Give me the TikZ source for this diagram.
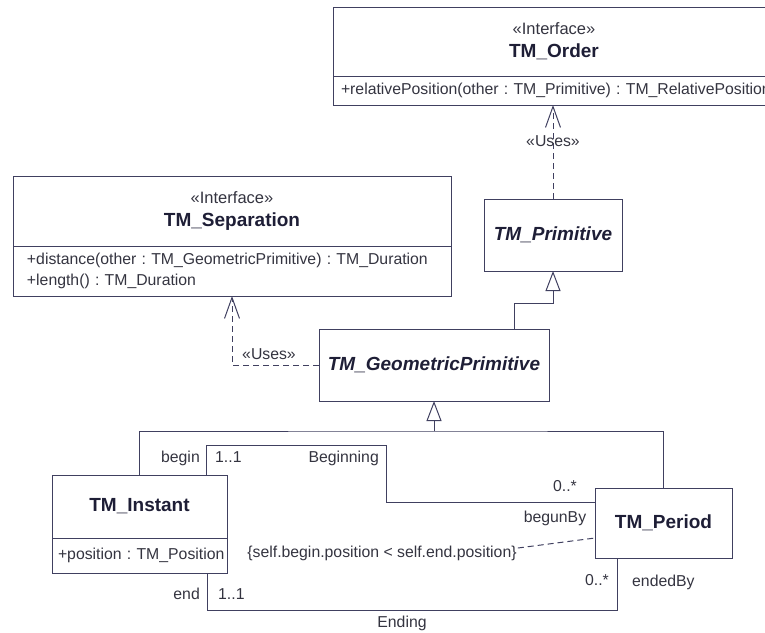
\documentclass[tikz,border=0pt]{standalone}
\usepackage{fontspec}
\setmainfont{Liberation Sans}
\usepackage{tikz}
\usetikzlibrary{positioning}
\usetikzlibrary{arrows.meta}
\frenchspacing
\definecolor{linecol}{RGB}{64,64,96}
\definecolor{txtcol}{RGB}{52,52,64}
\definecolor{namecol}{RGB}{30,30,54}
\newcommand{\clsname}[1]{{\fontsize{19}{23}\selectfont\bfseries\color{namecol}#1}}
\tikzstyle{cls} = [draw=linecol,line width=1pt,inner sep=0pt,outer sep=0pt,align=center]
\tikzstyle{ops} = [draw=linecol,line width=1pt,inner ysep=0pt,outer sep=0pt,align=left]
\tikzstyle{lbl} = [inner sep=1pt,text height=11.5pt,text depth=3.5pt]
\tikzstyle{link} = [draw=linecol,line width=1pt]
\tikzstyle{uses} = [link,dash pattern=on 6pt off 4pt,-{Straight Barb[length=21pt,width=15pt]}]
\tikzstyle{gen} = [link,-{Triangle[open,length=20pt,width=15pt]}]

\begin{document}
\begin{tikzpicture}[x=1pt,y=-1pt,font=\fontsize{15.8}{23}\selectfont,text=txtcol]
\useasboundingbox (0,0) rectangle (765,632);
\clip (0,0) rectangle (765,632);

%Nodes
\node[cls,minimum width=442pt,minimum height=69pt,anchor=north west] (Ord) at (333,7) {{\fontsize{16.5}{23}\selectfont«Interface»}\\\clsname{TM\_Order}};
\node[ops,minimum width=442pt,minimum height=29pt,text width=426pt,inner xsep=8pt,below=0pt of Ord] (OrdOps) {\mbox{+relativePosition(other : TM\_Primitive) : TM\_RelativePosition}};
\node[cls,minimum width=438pt,minimum height=70pt,anchor=north west] (Sep) at (13,176) {{\fontsize{16.5}{22}\selectfont«Interface»}\\\clsname{TM\_Separation}};
\node[ops,minimum width=438pt,minimum height=50pt,text width=410pt,inner xsep=14pt,below=0pt of Sep,font=\fontsize{15.8}{21}\selectfont] (SepOps) {+distance(other : TM\_GeometricPrimitive) : TM\_Duration\\+length() : TM\_Duration};
\node[cls,minimum width=138pt,minimum height=72pt,anchor=north west] (Prim) at (484,199) {\clsname{\itshape TM\_Primitive}};
\node[cls,minimum width=230pt,minimum height=72pt,anchor=north west] (Geo) at (319,329) {\clsname{\itshape TM\_GeometricPrimitive}};
\node[cls,minimum width=175pt,minimum height=63pt,anchor=north west] (Inst) at (52,475) {\clsname{TM\_Instant}};
\node[ops,minimum width=175pt,minimum height=35pt,text width=163pt,inner xsep=6pt,below=0pt of Inst] (InstOps) {\mbox{+position : TM\_Position}};
\node[cls,minimum width=137pt,minimum height=70pt,anchor=north west] (Per) at (595,488) {\clsname{TM\_Period}};
\node[lbl] (Cons) at (382,553) {\{self.begin.position < self.end.position\}};

%Lines
\draw[uses] (Prim.north) -- (Prim.north |- OrdOps.south);
\node[lbl] (UsesOrd) at (553,142) {«Uses»};
\draw[uses] (Geo.west) -| (SepOps.south);
\node[lbl] (UsesSep) at (269,355) {«Uses»};
\draw[gen] ([xshift=80pt]Geo.north) |- ([yshift=-32pt]Prim.south) -- (Prim.south);
\coordinate[below=30pt of Geo.south] (GenJoin);
\draw[gen] (GenJoin) -- (Geo.south);
\draw[link] (Inst.north) |- (GenJoin) -| (Per.north);
\draw[link] ([xshift=-21pt]Inst.north east) -- ++(0,-30) -- ++(180,0) |- ([yshift=-14pt]Per.north west);
\draw[link] ([xshift=-20pt]InstOps.south east) -- ++(0,37) -| ([xshift=22pt]Per.south west);
\draw[link,dash pattern=on 6pt off 4pt] ([yshift=5pt]Cons.east) -- ([yshift=-50pt]Per.north west);

%Labels
\node[lbl,anchor=east] (BegRole) at (201,458) {begin};
\node[lbl,anchor=west] (BegMultI) at (214,458) {1..1};
\node[lbl,anchor=east] (BegName) at (380,458) {Beginning};
\node[lbl] (BegMultP) at (565,487) {0..*};
\node[lbl] (BegRoleP) at (555,518) {begunBy};
\node[lbl,anchor=east] (EndRole) at (201,595) {end};
\node[lbl,anchor=west] (EndMultI) at (217,595) {1..1};
\node[lbl] (EndName) at (402,623) {Ending};
\node[lbl] (EndMultP) at (597,581) {0..*};
\node[lbl,anchor=west] (EndRoleP) at (631,582) {endedBy};

\end{tikzpicture}
\end{document}
